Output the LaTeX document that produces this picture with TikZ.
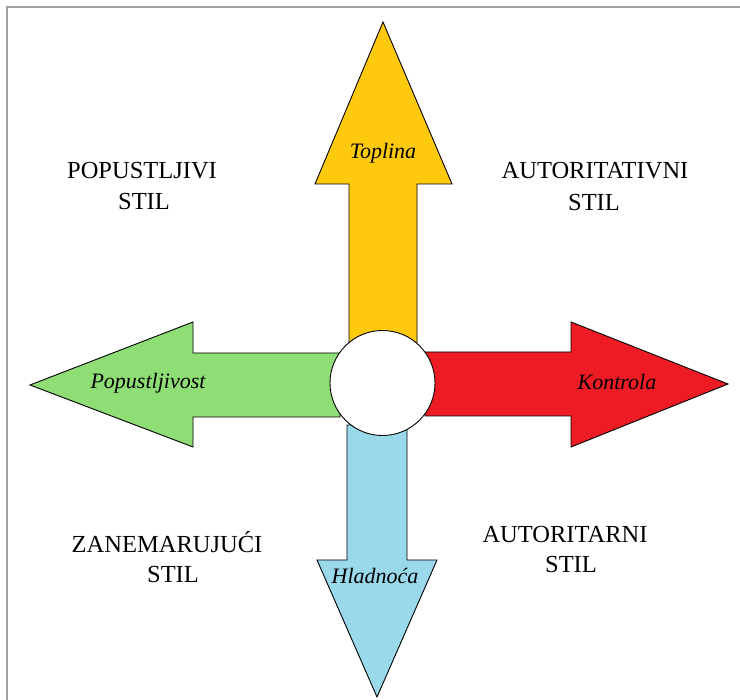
\documentclass[tikz,border=0pt]{standalone}
\usepackage{fontspec}
\setmainfont{Liberation Serif}
\definecolor{cyellow}{RGB}{255,201,14}
\definecolor{cred}{RGB}{237,28,36}
\definecolor{cgreen}{RGB}{143,221,117}
\definecolor{cblue}{RGB}{153,217,234}
\definecolor{cframe}{RGB}{160,160,160}
\begin{document}
\begin{tikzpicture}[x=1pt,y=-1pt,
  arrowshape/.style={draw=black, line width=0.9pt, line join=miter},
  axislabel/.style={font=\fontsize{22}{25}\selectfont\itshape, inner sep=0pt, anchor=base},
  stylelabel/.style={font=\fontsize{24.5}{30}\selectfont, inner sep=0pt, anchor=base},
  framestyle/.style={draw=cframe, line width=1.5pt}]
\useasboundingbox (0,0) rectangle (740,700);
\fill[white] (0,0) rectangle (740,700);
% frame
\draw[framestyle] (7,700) -- (7,7) -- (740,7);
% arrows
\draw[arrowshape, fill=cyellow] (349,345) -- (349,184) -- (315,184) -- (383,22) -- (452,184) -- (417,184) -- (417,345) -- cycle;
\draw[arrowshape, fill=cgreen] (340,353) -- (193,353) -- (193,322) -- (30,385) -- (193,447) -- (193,417) -- (340,417) -- cycle;
\draw[arrowshape, fill=cred] (425,352) -- (571,352) -- (571,322) -- (728,384) -- (571,447) -- (571,416) -- (425,416) -- cycle;
\draw[arrowshape, fill=cblue] (347,425) -- (347,560) -- (317,560) -- (377,697) -- (437,560) -- (407,560) -- (407,425) -- cycle;
% centre circle
\node[circle, draw=black, line width=0.9pt, fill=white, minimum size=105pt, inner sep=0pt] (centre) at (382.5,383) {};
% arrow labels
\node[axislabel] (toplina) at (383,159) {Toplina};
\node[axislabel] (popust) at (148,389) {Popustljivost};
\node[axislabel] (kontrola) at (617,390) {Kontrola};
\node[axislabel] (hladnoca) at (375,584) {Hladnoća};
% style labels
\node[stylelabel] (pop1) at (142,179) {POPUSTLJIVI};
\node[stylelabel] (pop2) at (144,210) {STIL};
\node[stylelabel] (ati1) at (595,179) {AUTORITATIVNI};
\node[stylelabel] (ati2) at (594,211) {STIL};
\node[stylelabel] (zan1) at (167,553) {ZANEMARUJUĆI};
\node[stylelabel] (zan2) at (173,583) {STIL};
\node[stylelabel] (atr1) at (565,543) {AUTORITARNI};
\node[stylelabel] (atr2) at (571,573) {STIL};
\end{tikzpicture}
\end{document}
